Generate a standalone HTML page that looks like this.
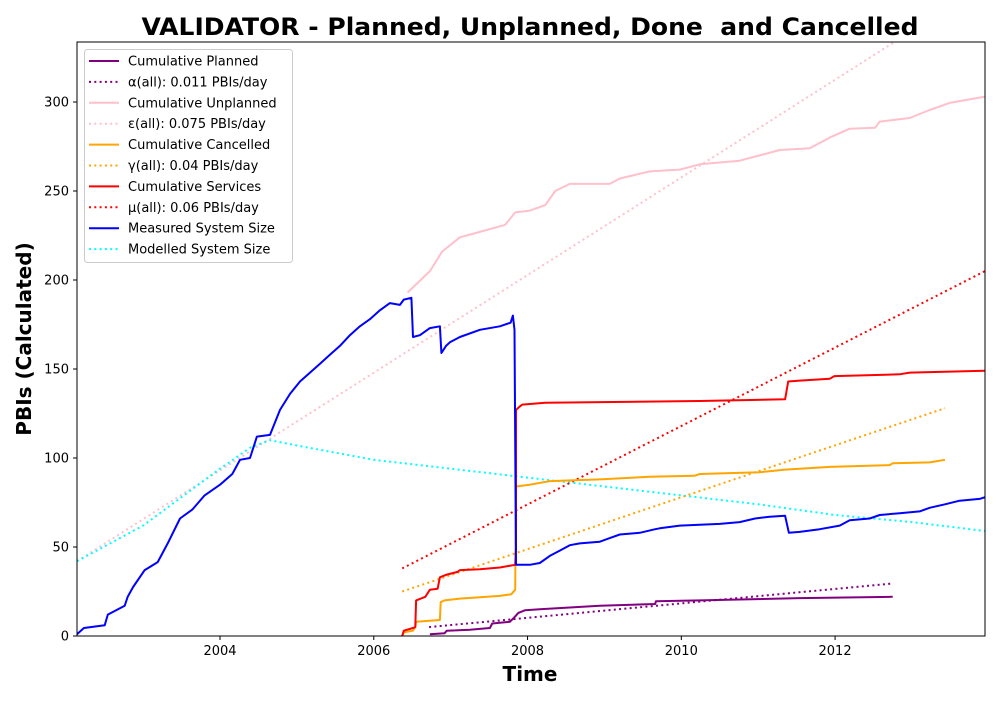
<!DOCTYPE html>
<html><head><meta charset="utf-8"><style>
body{margin:0;background:#fff;font-family:"Liberation Sans","DejaVu Sans",sans-serif;}
svg text{font-family:"DejaVu Sans","Liberation Sans",sans-serif;}
</style></head><body>
<svg id="chart" width="1000" height="700" viewBox="0 0 1000 700">
<defs><clipPath id="clip"><rect x="77" y="42" width="908" height="594"/></clipPath></defs>
<rect x="0" y="0" width="1000" height="700" fill="#fff"/>
<text x="530" y="35" text-anchor="middle" font-size="24" font-weight="bold" textLength="777" lengthAdjust="spacingAndGlyphs">VALIDATOR - Planned, Unplanned, Done&#160; and Cancelled</text>
<g id="xticks"></g>
<g id="yticks"></g>
<g id="series" clip-path="url(#clip)"></g>
<rect x="77" y="42" width="908" height="594" fill="none" stroke="#000" stroke-width="1"/>
<text x="530" y="681" text-anchor="middle" font-size="20" font-weight="bold">Time</text>
<text transform="translate(31,339) rotate(-90)" text-anchor="middle" font-size="20" font-weight="bold">PBIs (Calculated)</text>
<g id="legend"></g>
</svg>
<script>
const xTicks=[2004,2006,2008,2010,2012];
const yTicks=[0,50,100,150,200,250,300];
const measured=[[2002.14,1],[2002.23,4.5],[2002.5,6],[2002.54,12],[2002.76,17],[2002.8,22],[2002.87,27.5],[2003.02,37],[2003.19,41.5],[2003.32,52],[2003.48,66],[2003.64,71],[2003.8,79],[2004,85],[2004.16,91],[2004.26,99],[2004.39,100],[2004.48,112],[2004.65,113],[2004.78,127],[2004.91,136],[2005.04,143],[2005.17,148],[2005.30,153],[2005.43,158],[2005.56,163],[2005.69,169],[2005.82,174],[2005.95,178],[2006.08,183],[2006.21,187],[2006.34,186],[2006.39,189],[2006.49,190],[2006.51,168],[2006.60,169],[2006.73,173],[2006.86,174],[2006.88,159],[2006.94,163],[2006.99,165],[2007.12,168],[2007.38,172],[2007.64,174],[2007.78,176],[2007.81,180],[2007.83,172],[2007.85,40],[2007.90,40],[2008.03,40],[2008.16,41],[2008.29,45],[2008.42,48],[2008.55,51],[2008.68,52],[2008.94,53],[2009.07,55],[2009.20,57],[2009.46,58],[2009.66,60],[2009.72,60.5],[2009.98,62],[2010.24,62.5],[2010.50,63],[2010.76,64],[2010.96,66],[2011.15,67],[2011.35,67.5],[2011.40,58],[2011.54,58.5],[2011.80,60],[2012.06,62],[2012.19,65],[2012.45,66],[2012.58,68],[2012.84,69],[2013.10,70],[2013.23,72],[2013.43,74],[2013.62,76],[2013.88,77],[2013.95,78]];
const modelled=[[2002.14,42],[2003,62],[2004,94],[2004.4,106],[2004.65,110],[2005,107],[2006,99],[2007,94],[2008,89],[2009,84],[2010,79],[2011,74],[2012,68],[2013,64],[2013.95,59]];
const unplanned=[[2006.44,193],[2006.73,205],[2006.89,216],[2007.12,224],[2007.38,227],[2007.71,231],[2007.84,238],[2008.03,239],[2008.23,242],[2008.36,250],[2008.55,254],[2009.07,254],[2009.20,257],[2009.59,261],[2009.98,262],[2010.24,265],[2010.76,267],[2011.02,270],[2011.28,273],[2011.67,274],[2011.93,280],[2012.19,285],[2012.52,285.5],[2012.58,289],[2012.97,291],[2013.23,295.5],[2013.49,299.5],[2013.95,303]];
const unplannedFit=[[2002.14,42],[2013.95,366]];
const services=[[2006.37,0],[2006.39,3],[2006.51,4.5],[2006.54,5],[2006.55,20],[2006.67,22],[2006.73,26],[2006.83,26.5],[2006.86,33],[2006.95,34.5],[2007.09,36],[2007.12,37],[2007.38,37.5],[2007.64,38.5],[2007.84,40],[2007.85,49],[2007.85,127],[2007.90,129],[2007.93,130],[2008.23,131],[2010.24,132],[2011.35,133],[2011.39,143],[2011.54,143.5],[2011.93,144.5],[2011.99,146],[2012.84,147],[2012.97,148],[2013.95,149]];
const servicesFit=[[2006.37,38],[2013.95,205]];
const cancelled=[[2006.37,0],[2006.39,2],[2006.51,3],[2006.54,5],[2006.55,8],[2006.86,9],[2006.87,19],[2006.92,20],[2007.12,21],[2007.64,22.5],[2007.79,23.5],[2007.84,26],[2007.85,84],[2008.03,85],[2008.29,87],[2008.94,88],[2009.59,89.5],[2010.17,90],[2010.24,91],[2011.02,92],[2011.35,93.5],[2011.93,95],[2012.71,96],[2012.75,97],[2013.23,97.5],[2013.43,99]];
const cancelledFit=[[2006.37,25],[2013.43,128]];
const planned=[[2006.73,1],[2006.92,1.5],[2006.95,3],[2007.25,3.5],[2007.51,4.5],[2007.54,7],[2007.77,8],[2007.84,11],[2007.88,13],[2007.97,14.5],[2008.16,15],[2008.94,17],[2009.66,18],[2009.67,19.5],[2010.24,20],[2011.54,21.3],[2012.75,22]];
const plannedFit=[[2006.72,5],[2012.75,29.5]];
const legendLabels=["Cumulative Planned","α(all): 0.011 PBIs/day","Cumulative Unplanned","ε(all): 0.075 PBIs/day","Cumulative Cancelled","γ(all): 0.04 PBIs/day","Cumulative Services","μ(all): 0.06 PBIs/day","Measured System Size","Modelled System Size"];

const NS="http://www.w3.org/2000/svg";
const X0=2002.14,X1=2013.95,PX0=77,PX1=985,Y0=0,Y1=333.7,PY0=636,PY1=42;
function sx(v){return PX0+(v-X0)/(X1-X0)*(PX1-PX0);}
function sy(v){return PY0-(v-Y0)/(Y1-Y0)*(PY0-PY1);}
function mk(t,a,p){const e=document.createElementNS(NS,t);for(const k in a)e.setAttribute(k,a[k]);p.appendChild(e);return e;}
const xg=document.getElementById('xticks'),yg=document.getElementById('yticks');
xTicks.forEach(t=>{const x=sx(t);
 const l=mk('line',{x1:x,x2:x,y1:636,y2:640,stroke:'#000'},xg);
 
 
 const tx=mk('text',{x:x,y:655,'text-anchor':'middle','font-size':13},xg);tx.textContent=t;
 
 
});
yTicks.forEach(t=>{const y=sy(t);
 const l=mk('line',{x1:73,x2:77,y1:y,y2:y,stroke:'#000'},yg);
 
 
 const tx=mk('text',{x:69,y:y+4.5,'text-anchor':'end','font-size':13},yg);tx.textContent=t;
 
 
});
const sg=document.getElementById('series');
function line(data,color,dotted,name){
 const d=data.map((p,i)=>(i?'L':'M')+sx(p[0]).toFixed(1)+','+sy(p[1]).toFixed(1)).join('');
 const a={d:d,fill:'none',stroke:color,'stroke-width':2,'stroke-linejoin':'round'};
 if(dotted){a['stroke-dasharray']='2 3.3';}
 const e=mk('path',a,sg);
 
 
}
line(unplannedFit,'pink',true,'unplanned-trend-line');
line(modelled,'cyan',true,'modelled-system-size-line');
line(plannedFit,'purple',true,'planned-trend-line');
line(cancelledFit,'orange',true,'cancelled-trend-line');
line(servicesFit,'red',true,'services-trend-line');
line(unplanned,'pink',false,'unplanned-line');
line(cancelled,'orange',false,'cancelled-line');
line(services,'red',false,'services-line');
line(planned,'purple',false,'planned-line');
line(measured,'blue',false,'measured-system-size-line');
const lg=document.getElementById('legend');
const box=mk('rect',{x:84.5,y:49.5,width:208,height:213,rx:3,fill:'#fff','fill-opacity':0.85,stroke:'#ccc'},lg);


const lcol=['purple','purple','pink','pink','orange','orange','red','red','blue','cyan'];
legendLabels.forEach((s,i)=>{const y=61+i*20.9;
 const ln=mk('line',{x1:89,x2:119,y1:y,y2:y,stroke:lcol[i],'stroke-width':2},lg);
 if(i%2===1||i===9)ln.setAttribute('stroke-dasharray','2 3.3');
 
 
 const t=mk('text',{x:128,y:y+4.5,'font-size':13},lg);t.textContent=s;
 
 
});
</script>
</body></html>
